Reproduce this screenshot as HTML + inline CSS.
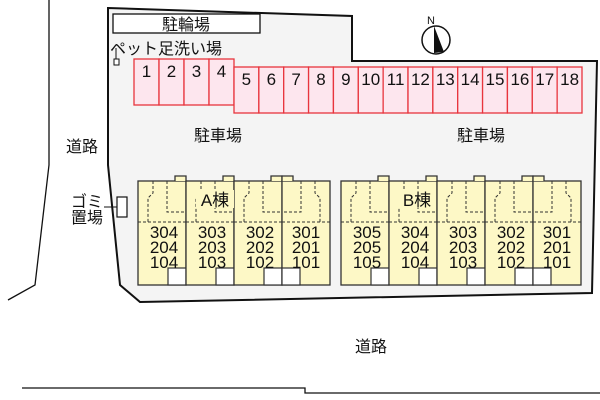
<!DOCTYPE html>
<html><head><meta charset="utf-8"><style>
html,body{margin:0;padding:0;background:#fff}
svg{display:block}
text{font-family:"Liberation Sans","Noto Sans CJK JP",sans-serif;fill:#111}
</style></head><body>
<svg width="600" height="400" viewBox="0 0 600 400" xmlns="http://www.w3.org/2000/svg">
<defs>
<g id="u">
<rect x="0" y="0" width="48" height="104" fill="#fdf8c6" stroke="#333" stroke-width="1.3"/>
<path d="M37,0 V-5 H48 V0" fill="#fdf8c6" stroke="#333" stroke-width="1.3"/>
<path d="M15,0 V12 L10,17 V41 M29,0 V31 H48 M0,41 H48" fill="none" stroke="#333" stroke-width="1" stroke-dasharray="3,2"/>
<rect x="30" y="87" width="18" height="17" fill="#fff" stroke="#333" stroke-width="1.2"/>
</g>
</defs>
<path d="M49,0 V165 L35,285 L8,300" fill="none" stroke="#111" stroke-width="1.3"/>
<path d="M22,388 H305 V393 H600" fill="none" stroke="#111" stroke-width="1.3"/>
<path d="M108,8 L352,16 V61 H597 L592,293 L140,302 L120,285 L108,165 Z" fill="#f4f4f4" stroke="#111" stroke-width="2"/>
<rect x="113" y="14" width="147" height="19" fill="#fff" stroke="#111" stroke-width="1.3"/>
<text x="186" y="30" font-size="16" text-anchor="middle">駐輪場</text>
<text x="110" y="54" font-size="16">ペット足洗い場</text>
<path d="M116,48 V59" stroke="#111" stroke-width="1"/>
<rect x="114" y="59" width="5" height="6" fill="#fff" stroke="#111" stroke-width="1"/>
<circle cx="436" cy="40" r="14" fill="#fff" stroke="#111" stroke-width="1.5"/>
<path d="M434,26 L444,52 L434,53 Z" fill="#111"/>
<text x="431" y="24" font-size="11" text-anchor="middle">N</text>
<g fill="#fde6ee" stroke="#e8353d" stroke-width="1.3">
<rect x="134" y="59" width="25" height="46"/><rect x="159" y="59" width="25" height="46"/><rect x="184" y="59" width="25" height="46"/><rect x="209" y="59" width="25" height="46"/>
<rect x="234" y="67" width="24.86" height="46"/><rect x="258.86" y="67" width="24.86" height="46"/><rect x="283.71" y="67" width="24.86" height="46"/><rect x="308.57" y="67" width="24.86" height="46"/><rect x="333.43" y="67" width="24.86" height="46"/><rect x="358.29" y="67" width="24.86" height="46"/><rect x="383.14" y="67" width="24.86" height="46"/><rect x="408" y="67" width="24.86" height="46"/><rect x="432.86" y="67" width="24.86" height="46"/><rect x="457.71" y="67" width="24.86" height="46"/><rect x="482.57" y="67" width="24.86" height="46"/><rect x="507.43" y="67" width="24.86" height="46"/><rect x="532.29" y="67" width="24.86" height="46"/><rect x="557.14" y="67" width="24.86" height="46"/>
</g>
<g font-size="17" text-anchor="middle">
<text x="146.5" y="77">1</text><text x="171.5" y="77">2</text><text x="196.5" y="77">3</text><text x="221.5" y="77">4</text>
<text x="246.4" y="85">5</text><text x="271.3" y="85">6</text><text x="296.1" y="85">7</text><text x="321" y="85">8</text><text x="345.9" y="85">9</text><text x="370.7" y="85">10</text><text x="395.6" y="85">11</text><text x="420.4" y="85">12</text><text x="445.3" y="85">13</text><text x="470.1" y="85">14</text><text x="495" y="85">15</text><text x="519.9" y="85">16</text><text x="544.7" y="85">17</text><text x="569.6" y="85">18</text>
</g>
<text x="218" y="141" font-size="16" text-anchor="middle">駐車場</text>
<text x="481" y="141" font-size="16" text-anchor="middle">駐車場</text>
<text x="82" y="152" font-size="16" text-anchor="middle">道路</text>
<text x="371" y="352" font-size="16" text-anchor="middle">道路</text>
<text x="87" y="207" font-size="16" text-anchor="middle">ゴミ</text>
<text x="87" y="223" font-size="16" text-anchor="middle">置場</text>
<path d="M104,207 H117" stroke="#111" stroke-width="1"/>
<rect x="117" y="197" width="10" height="20" fill="#fff" stroke="#111" stroke-width="1.2"/>
<use href="#u" x="138" y="181"/><use href="#u" x="186" y="181"/><use href="#u" x="234" y="181"/>
<use href="#u" transform="translate(330,181) scale(-1,1)"/>
<use href="#u" x="341" y="181"/><use href="#u" x="389" y="181"/><use href="#u" x="437" y="181"/><use href="#u" x="485" y="181"/>
<use href="#u" transform="translate(581,181) scale(-1,1)"/>
<rect x="196" y="190" width="38" height="18" fill="#fdf8c6"/>
<text x="215" y="206" font-size="17" text-anchor="middle">A棟</text>
<rect x="398" y="190" width="38" height="18" fill="#fdf8c6"/>
<text x="417" y="206" font-size="17" text-anchor="middle">B棟</text>
<g font-size="17" text-anchor="middle">
<text x="164" y="238">304</text><text x="164" y="253">204</text><text x="164" y="268">104</text>
<text x="212" y="238">303</text><text x="212" y="253">203</text><text x="212" y="268">103</text>
<text x="260" y="238">302</text><text x="260" y="253">202</text><text x="260" y="268">102</text>
<text x="306" y="238">301</text><text x="306" y="253">201</text><text x="306" y="268">101</text>
<text x="367" y="238">305</text><text x="367" y="253">205</text><text x="367" y="268">105</text>
<text x="415" y="238">304</text><text x="415" y="253">204</text><text x="415" y="268">104</text>
<text x="463" y="238">303</text><text x="463" y="253">203</text><text x="463" y="268">103</text>
<text x="511" y="238">302</text><text x="511" y="253">202</text><text x="511" y="268">102</text>
<text x="557" y="238">301</text><text x="557" y="253">201</text><text x="557" y="268">101</text>
</g>
</svg>
</body></html>
